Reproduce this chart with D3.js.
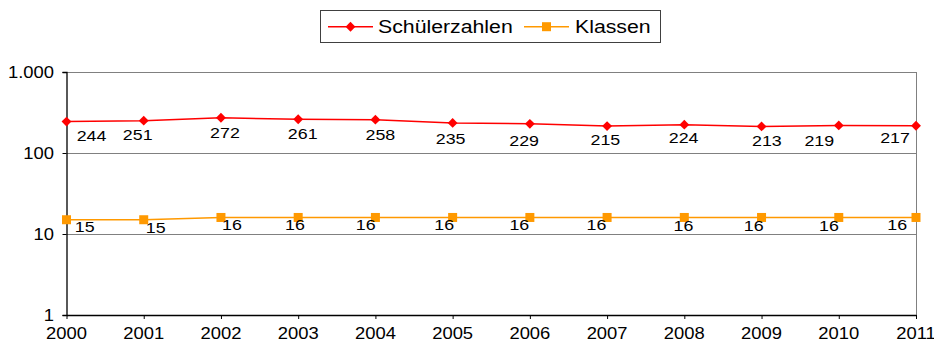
<!DOCTYPE html>
<html>
<head>
<meta charset="utf-8">
<script src="https://cdn.jsdelivr.net/npm/d3@7"></script>
<style>
  html, body { margin: 0; padding: 0; background: #fff; }
  svg { display: block; font-family: Arial, "Liberation Sans", sans-serif; }
</style>
</head>
<body>
<svg id="chart" width="934" height="342"></svg>
<script>
// Schülerzahlen und Klassen, 2000–2011
const years = ["2000","2001","2002","2003","2004","2005","2006","2007","2008","2009","2010","2011"];
const schueler = [244, 251, 272, 261, 258, 235, 229, 215, 224, 213, 219, 217];
const klassen = [15, 15, 16, 16, 16, 16, 16, 16, 16, 16, 16, 16];
const yTicks = [1, 10, 100, 1000];
const yTickLabels = ["1", "10", "100", "1.000"];
const seriesNames = ["Schülerzahlen", "Klassen"];

const svg = d3.select("#chart");
const plot = { left: 66.5, right: 916, top: 72, bottom: 315 };
const sx = 1.15; // horizontal widening of all lettering

const x = d3.scalePoint().domain(years).range([plot.left, plot.right]);
const y = d3.scaleLog().domain([1, 1000]).range([plot.bottom, plot.top]);

// text helper: stretched horizontally around its anchor point
function label(parent, px, py, str, size, anchor) {
  const g = parent.append("g").attr("transform", `translate(${px},${py}) scale(${sx},1)`);
  g.append("text").attr("x", 0).attr("y", 0)
    .attr("font-size", size).attr("text-anchor", anchor || "middle")
    .attr("fill", "#000").text(str);
  return g;
}

// gridlines
svg.append("g").selectAll("line").data(yTicks.slice(1)).join("line")
  .attr("x1", plot.left).attr("x2", plot.right)
  .attr("y1", d => Math.round(y(d)) + 0.5).attr("y2", d => Math.round(y(d)) + 0.5)
  .attr("stroke", "#808080").attr("stroke-width", 1);

// right border of the plot area
svg.append("line")
  .attr("x1", plot.right + 0.5).attr("x2", plot.right + 0.5)
  .attr("y1", plot.top).attr("y2", plot.bottom)
  .attr("stroke", "#808080");

// y axis
const yAxis = svg.append("g").attr("transform", `translate(${plot.left},0)`)
  .call(d3.axisLeft(y).tickValues(yTicks).tickSize(4).tickFormat(""));
yAxis.select(".domain").attr("stroke", "#000").attr("stroke-width", 1.3);
yAxis.selectAll(".tick line").attr("stroke", "#000");
yTicks.forEach((t, i) => label(svg, 54, y(t) + 5.5, yTickLabels[i], 16, "end"));

// x axis
const xAxis = svg.append("g").attr("transform", `translate(0,${plot.bottom})`)
  .call(d3.axisBottom(x).tickSize(4).tickSizeOuter(0).tickFormat(""));
xAxis.select(".domain").attr("stroke", "#000").attr("stroke-width", 1.3);
xAxis.selectAll(".tick line").attr("stroke", "#000");
years.forEach(yr => label(svg, x(yr), 338.5, yr, 16, "middle"));

// series lines
const red = "#ff0000", orange = "#ff9900";
const line = vals => d3.line().x((d, i) => x(years[i])).y(d => y(d))(vals);
svg.append("path").attr("d", line(klassen)).attr("fill", "none").attr("stroke", orange).attr("stroke-width", 1.5);
svg.append("path").attr("d", line(schueler)).attr("fill", "none").attr("stroke", red).attr("stroke-width", 1.5);

// markers
const diamond = d3.symbol().type(d3.symbolDiamond2).size(62);
svg.append("g").selectAll("path").data(schueler).join("path")
  .attr("d", diamond)
  .attr("transform", (d, i) => `translate(${x(years[i])},${y(d)})`)
  .attr("fill", red);
svg.append("g").selectAll("rect").data(klassen).join("rect")
  .attr("x", (d, i) => x(years[i]) - 4.5).attr("y", d => y(d) - 4.5)
  .attr("width", 9).attr("height", 9).attr("fill", orange);

// value labels, placed below each point with small individual shifts
const schuelerShift = [[25,13.4],[-6,13.4],[4,14.2],[4.5,14.2],[5,14.3],[-2,15.6],[-5.7,17],[-1.7,13],[-0.7,12.5],[5.3,13.7],[-19.5,14.6],[-21,11.8]];
const klassenShift = [[18.2,6.3],[12,7.3],[11,6.5],[-3.2,7],[-9.7,7],[-8.5,7],[-10.5,7],[-10.6,7],[-0.8,8.3],[-7.8,8.3],[-9.8,8.3],[-18.8,6.5]];
schueler.forEach((v, i) => label(svg, x(years[i]) + schuelerShift[i][0], y(v) + schuelerShift[i][1] + 5.6, String(v), 15.5, "middle"));
klassen.forEach((v, i) => label(svg, x(years[i]) + klassenShift[i][0], y(v) + klassenShift[i][1] + 5.6, String(v), 15.5, "middle"));

// legend
const lg = svg.append("g");
lg.append("rect").attr("x", 320.5).attr("y", 10.5).attr("width", 340).attr("height", 32)
  .attr("fill", "#fff").attr("stroke", "#404040").attr("stroke-width", 1);
const legendItems = [
  { name: seriesNames[0], color: red, x0: 328, x1: 373, tx: 378, shape: "diamond" },
  { name: seriesNames[1], color: orange, x0: 524, x1: 569, tx: 575, shape: "square" }
];
legendItems.forEach(it => {
  const cy = 26.7;
  lg.append("line").attr("x1", it.x0).attr("x2", it.x1).attr("y1", cy).attr("y2", cy)
    .attr("stroke", it.color).attr("stroke-width", 1.5);
  const mx = (it.x0 + it.x1) / 2;
  if (it.shape === "diamond") {
    lg.append("path").attr("d", diamond).attr("transform", `translate(${mx},${cy})`).attr("fill", it.color);
  } else {
    lg.append("rect").attr("x", mx - 4.5).attr("y", cy - 4.5).attr("width", 9).attr("height", 9).attr("fill", it.color);
  }
  label(lg, it.tx, cy + 6.5, it.name, 18.5, "start");
});
</script>
</body>
</html>
